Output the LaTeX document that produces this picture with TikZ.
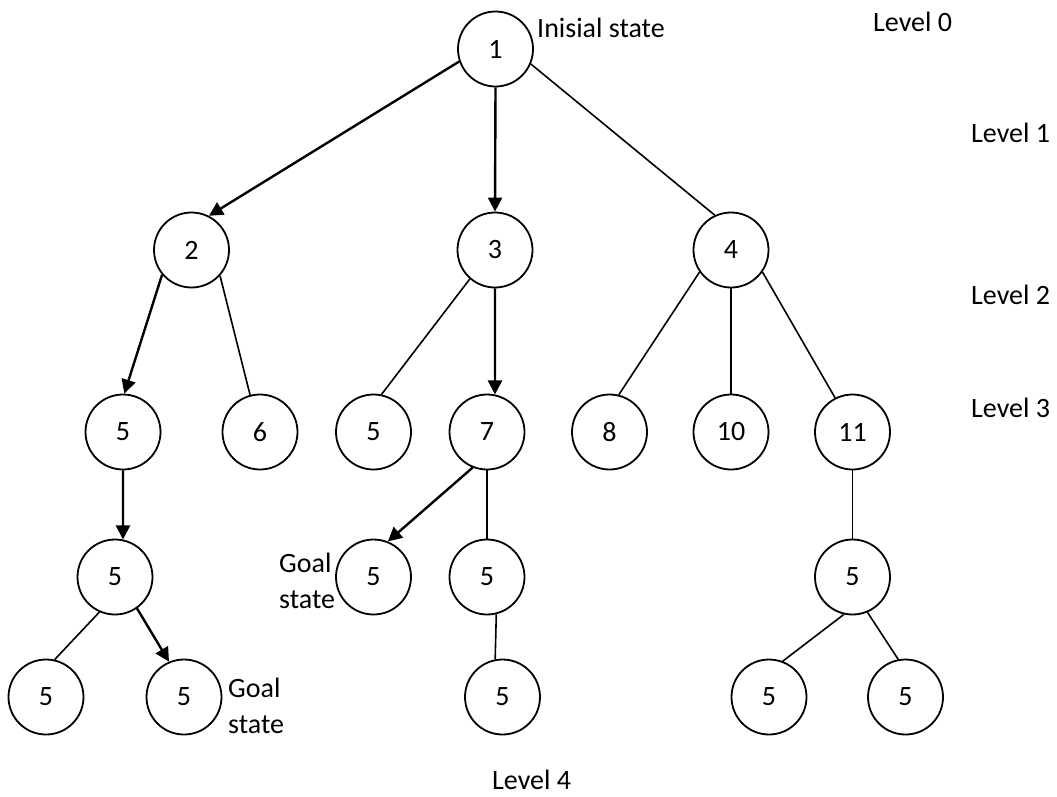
\documentclass[tikz,border=0pt]{standalone}
\usepackage{fontspec}
\setmainfont{Carlito}
\usetikzlibrary{arrows.meta}
\tikzset{
  state/.style={circle, draw, line width=1.8pt, minimum size=75pt, inner sep=0pt},
  txt/.style={anchor=west, inner sep=0pt, align=left},
  tree/.style={line width=1.6pt},
  solved/.style={line width=2.4pt, -{Triangle[length=14pt, width=14pt]}}
}
\begin{document}
\begin{tikzpicture}[x=1pt, y=-1pt, font=\fontsize{28}{36}\selectfont]
\useasboundingbox (0,0) rectangle (1057,796);
% states
\node[state](s1) at (495.5, 49) {1};
\node[state](s2) at (191.5, 250) {2};
\node[state](s3) at (495, 250) {3};
\node[state](s4) at (731, 250) {4};
\node[state](s5) at (123, 432) {5};
\node[state](s6) at (260, 432) {6};
\node[state](s5b) at (373.5, 432) {5};
\node[state](s7) at (487, 432) {7};
\node[state](s8) at (609.5, 432) {8};
\node[state](s10) at (731, 432) {10};
\node[state](s11) at (852.5, 432) {11};
\node[state](s5c) at (115, 577) {5};
\node[state](g1) at (373.5, 577) {5};
\node[state](s5d) at (487, 577) {5};
\node[state](s5e) at (852.5, 577) {5};
\node[state](s5f) at (46, 697) {5};
\node[state](g2) at (184, 697) {5};
\node[state](s5g) at (502.5, 697) {5};
\node[state](s5h) at (769, 697) {5};
\node[state](s5i) at (905.5, 697) {5};
% labels
\node[txt](init) at (537, 28) {Inisial state};
\node[txt](goal1) at (279, 581) {Goal\\state};
\node[txt](goal2) at (228, 706) {Goal\\state};
\node[txt](l0) at (873, 22) {Level 0};
\node[txt](l1) at (971, 133) {Level 1};
\node[txt](l2) at (971, 295) {Level 2};
\node[txt](l3) at (971, 408) {Level 3};
\node[txt](l4) at (492, 780) {Level 4};
% moves
\path[tree]
(s1.199) edge[solved] (s2.63)
(s1.south) edge[solved] (s3.north)
(s1.337) edge (s4.115)
(s2.220) edge[solved] (s5.88)
(s2.318) edge (s6.105)
(s3.229) edge (s5b.78)
(s3.south) edge[solved] (s7.78)
(s4.215) edge (s8.76)
(s4.south) edge (s10.north)
(s4.325) edge (s11.117)
(s5.south) edge[solved] (s5c.78)
(s7.248) edge[solved] (g1.68)
(s7.south) edge (s5d.north)
(s11.south) edge (s5e.north)
(s5c.246) edge (s5f.77)
(s5c.305) edge[solved] (g2.113)
(s5d.284) edge (s5g.101)
(s5e.257) edge (s5h.69)
(s5e.293) edge (s5i.101);
\end{tikzpicture}
\end{document}
